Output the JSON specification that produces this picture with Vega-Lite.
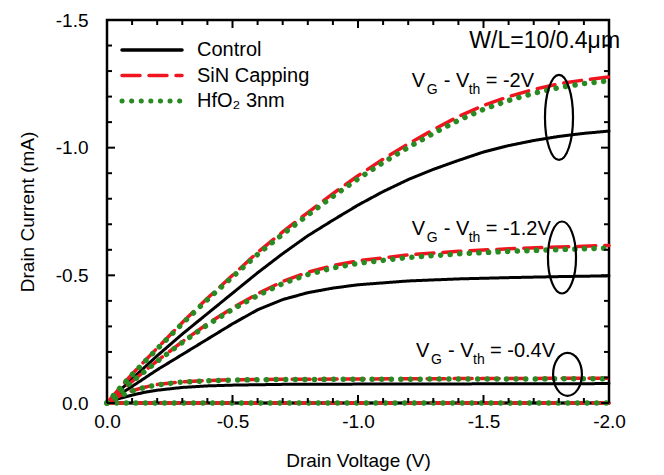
{
  "$schema": "https://vega.github.io/schema/vega-lite/v6.json",
  "autosize": "none",
  "width": 502,
  "height": 383,
  "padding": {"left": 107, "top": 20, "right": 55, "bottom": 72},
  "background": "white",
  "config": {
    "view": {"stroke": "black", "strokeWidth": 2.5},
    "font": "Liberation Sans",
    "axis": {"domain": false, "grid": false, "tickColor": "black", "tickWidth": 2, "labelColor": "black", "titleColor": "black", "labelFont": "Liberation Sans", "titleFont": "Liberation Sans", "labelFontSize": 19, "titleFontSize": 19, "titleFontWeight": "normal", "labelOverlap": false, "labelFlush": false}
  },
  "datasets": {
    "curves": [
      {"s": "Control", "g": "-2", "v": 0, "i": 0},
      {"s": "Control", "g": "-2", "v": -0.05, "i": -0.048},
      {"s": "Control", "g": "-2", "v": -0.1, "i": -0.095},
      {"s": "Control", "g": "-2", "v": -0.2, "i": -0.185},
      {"s": "Control", "g": "-2", "v": -0.3, "i": -0.27},
      {"s": "Control", "g": "-2", "v": -0.4, "i": -0.35},
      {"s": "Control", "g": "-2", "v": -0.5, "i": -0.43},
      {"s": "Control", "g": "-2", "v": -0.6, "i": -0.51},
      {"s": "Control", "g": "-2", "v": -0.7, "i": -0.585},
      {"s": "Control", "g": "-2", "v": -0.8, "i": -0.655},
      {"s": "Control", "g": "-2", "v": -0.9, "i": -0.716},
      {"s": "Control", "g": "-2", "v": -1.0, "i": -0.775},
      {"s": "Control", "g": "-2", "v": -1.1, "i": -0.828},
      {"s": "Control", "g": "-2", "v": -1.2, "i": -0.875},
      {"s": "Control", "g": "-2", "v": -1.3, "i": -0.915},
      {"s": "Control", "g": "-2", "v": -1.4, "i": -0.95},
      {"s": "Control", "g": "-2", "v": -1.5, "i": -0.983},
      {"s": "Control", "g": "-2", "v": -1.6, "i": -1.008},
      {"s": "Control", "g": "-2", "v": -1.7, "i": -1.028},
      {"s": "Control", "g": "-2", "v": -1.8, "i": -1.044},
      {"s": "Control", "g": "-2", "v": -1.9, "i": -1.056},
      {"s": "Control", "g": "-2", "v": -2.0, "i": -1.065},
      {"s": "Control", "g": "-1.2", "v": 0, "i": 0},
      {"s": "Control", "g": "-1.2", "v": -0.05, "i": -0.033},
      {"s": "Control", "g": "-1.2", "v": -0.1, "i": -0.065},
      {"s": "Control", "g": "-1.2", "v": -0.2, "i": -0.13},
      {"s": "Control", "g": "-1.2", "v": -0.3, "i": -0.19},
      {"s": "Control", "g": "-1.2", "v": -0.4, "i": -0.25},
      {"s": "Control", "g": "-1.2", "v": -0.5, "i": -0.31},
      {"s": "Control", "g": "-1.2", "v": -0.6, "i": -0.365},
      {"s": "Control", "g": "-1.2", "v": -0.7, "i": -0.405},
      {"s": "Control", "g": "-1.2", "v": -0.8, "i": -0.432},
      {"s": "Control", "g": "-1.2", "v": -0.9, "i": -0.45},
      {"s": "Control", "g": "-1.2", "v": -1.0, "i": -0.463},
      {"s": "Control", "g": "-1.2", "v": -1.2, "i": -0.478},
      {"s": "Control", "g": "-1.2", "v": -1.4, "i": -0.486},
      {"s": "Control", "g": "-1.2", "v": -1.6, "i": -0.491},
      {"s": "Control", "g": "-1.2", "v": -1.8, "i": -0.495},
      {"s": "Control", "g": "-1.2", "v": -2.0, "i": -0.498},
      {"s": "Control", "g": "-0.4", "v": 0, "i": 0},
      {"s": "Control", "g": "-0.4", "v": -0.025, "i": -0.01},
      {"s": "Control", "g": "-0.4", "v": -0.05, "i": -0.018},
      {"s": "Control", "g": "-0.4", "v": -0.1, "i": -0.031},
      {"s": "Control", "g": "-0.4", "v": -0.15, "i": -0.042},
      {"s": "Control", "g": "-0.4", "v": -0.2, "i": -0.05},
      {"s": "Control", "g": "-0.4", "v": -0.3, "i": -0.061},
      {"s": "Control", "g": "-0.4", "v": -0.4, "i": -0.067},
      {"s": "Control", "g": "-0.4", "v": -0.5, "i": -0.07},
      {"s": "Control", "g": "-0.4", "v": -0.7, "i": -0.073},
      {"s": "Control", "g": "-0.4", "v": -1.0, "i": -0.074},
      {"s": "Control", "g": "-0.4", "v": -1.5, "i": -0.075},
      {"s": "Control", "g": "-0.4", "v": -2.0, "i": -0.076},
      {"s": "Control", "g": "0", "v": 0, "i": 0},
      {"s": "Control", "g": "0", "v": -2.0, "i": 0},
      {"s": "SiN Capping", "g": "-2", "v": 0, "i": 0},
      {"s": "SiN Capping", "g": "-2", "v": -0.05, "i": -0.058},
      {"s": "SiN Capping", "g": "-2", "v": -0.1, "i": -0.113},
      {"s": "SiN Capping", "g": "-2", "v": -0.2, "i": -0.215},
      {"s": "SiN Capping", "g": "-2", "v": -0.3, "i": -0.315},
      {"s": "SiN Capping", "g": "-2", "v": -0.4, "i": -0.41},
      {"s": "SiN Capping", "g": "-2", "v": -0.5, "i": -0.5},
      {"s": "SiN Capping", "g": "-2", "v": -0.6, "i": -0.59},
      {"s": "SiN Capping", "g": "-2", "v": -0.7, "i": -0.67},
      {"s": "SiN Capping", "g": "-2", "v": -0.8, "i": -0.746},
      {"s": "SiN Capping", "g": "-2", "v": -0.9, "i": -0.82},
      {"s": "SiN Capping", "g": "-2", "v": -1.0, "i": -0.89},
      {"s": "SiN Capping", "g": "-2", "v": -1.1, "i": -0.955},
      {"s": "SiN Capping", "g": "-2", "v": -1.2, "i": -1.015},
      {"s": "SiN Capping", "g": "-2", "v": -1.3, "i": -1.07},
      {"s": "SiN Capping", "g": "-2", "v": -1.4, "i": -1.122},
      {"s": "SiN Capping", "g": "-2", "v": -1.5, "i": -1.165},
      {"s": "SiN Capping", "g": "-2", "v": -1.6, "i": -1.2},
      {"s": "SiN Capping", "g": "-2", "v": -1.7, "i": -1.228},
      {"s": "SiN Capping", "g": "-2", "v": -1.8, "i": -1.25},
      {"s": "SiN Capping", "g": "-2", "v": -1.9, "i": -1.265},
      {"s": "SiN Capping", "g": "-2", "v": -2.0, "i": -1.277},
      {"s": "SiN Capping", "g": "-1.2", "v": 0, "i": 0},
      {"s": "SiN Capping", "g": "-1.2", "v": -0.05, "i": -0.043},
      {"s": "SiN Capping", "g": "-1.2", "v": -0.1, "i": -0.085},
      {"s": "SiN Capping", "g": "-1.2", "v": -0.2, "i": -0.165},
      {"s": "SiN Capping", "g": "-1.2", "v": -0.3, "i": -0.24},
      {"s": "SiN Capping", "g": "-1.2", "v": -0.4, "i": -0.31},
      {"s": "SiN Capping", "g": "-1.2", "v": -0.5, "i": -0.372},
      {"s": "SiN Capping", "g": "-1.2", "v": -0.6, "i": -0.428},
      {"s": "SiN Capping", "g": "-1.2", "v": -0.7, "i": -0.476},
      {"s": "SiN Capping", "g": "-1.2", "v": -0.8, "i": -0.512},
      {"s": "SiN Capping", "g": "-1.2", "v": -0.9, "i": -0.538},
      {"s": "SiN Capping", "g": "-1.2", "v": -1.0, "i": -0.557},
      {"s": "SiN Capping", "g": "-1.2", "v": -1.2, "i": -0.58},
      {"s": "SiN Capping", "g": "-1.2", "v": -1.4, "i": -0.594},
      {"s": "SiN Capping", "g": "-1.2", "v": -1.6, "i": -0.604},
      {"s": "SiN Capping", "g": "-1.2", "v": -1.8, "i": -0.611},
      {"s": "SiN Capping", "g": "-1.2", "v": -2.0, "i": -0.617},
      {"s": "SiN Capping", "g": "-0.4", "v": 0, "i": 0},
      {"s": "SiN Capping", "g": "-0.4", "v": -0.025, "i": -0.015},
      {"s": "SiN Capping", "g": "-0.4", "v": -0.05, "i": -0.028},
      {"s": "SiN Capping", "g": "-0.4", "v": -0.1, "i": -0.048},
      {"s": "SiN Capping", "g": "-0.4", "v": -0.15, "i": -0.062},
      {"s": "SiN Capping", "g": "-0.4", "v": -0.2, "i": -0.072},
      {"s": "SiN Capping", "g": "-0.4", "v": -0.3, "i": -0.083},
      {"s": "SiN Capping", "g": "-0.4", "v": -0.4, "i": -0.088},
      {"s": "SiN Capping", "g": "-0.4", "v": -0.5, "i": -0.091},
      {"s": "SiN Capping", "g": "-0.4", "v": -0.7, "i": -0.093},
      {"s": "SiN Capping", "g": "-0.4", "v": -1.0, "i": -0.094},
      {"s": "SiN Capping", "g": "-0.4", "v": -1.5, "i": -0.096},
      {"s": "SiN Capping", "g": "-0.4", "v": -2.0, "i": -0.097},
      {"s": "SiN Capping", "g": "0", "v": 0, "i": 0},
      {"s": "SiN Capping", "g": "0", "v": -2.0, "i": 0},
      {"s": "HfO₂ 3nm", "g": "-2", "v": 0, "i": 0},
      {"s": "HfO₂ 3nm", "g": "-2", "v": -0.05, "i": -0.057},
      {"s": "HfO₂ 3nm", "g": "-2", "v": -0.1, "i": -0.111},
      {"s": "HfO₂ 3nm", "g": "-2", "v": -0.2, "i": -0.212},
      {"s": "HfO₂ 3nm", "g": "-2", "v": -0.3, "i": -0.311},
      {"s": "HfO₂ 3nm", "g": "-2", "v": -0.4, "i": -0.405},
      {"s": "HfO₂ 3nm", "g": "-2", "v": -0.5, "i": -0.494},
      {"s": "HfO₂ 3nm", "g": "-2", "v": -0.6, "i": -0.582},
      {"s": "HfO₂ 3nm", "g": "-2", "v": -0.7, "i": -0.661},
      {"s": "HfO₂ 3nm", "g": "-2", "v": -0.8, "i": -0.736},
      {"s": "HfO₂ 3nm", "g": "-2", "v": -0.9, "i": -0.809},
      {"s": "HfO₂ 3nm", "g": "-2", "v": -1.0, "i": -0.878},
      {"s": "HfO₂ 3nm", "g": "-2", "v": -1.1, "i": -0.942},
      {"s": "HfO₂ 3nm", "g": "-2", "v": -1.2, "i": -1.001},
      {"s": "HfO₂ 3nm", "g": "-2", "v": -1.3, "i": -1.056},
      {"s": "HfO₂ 3nm", "g": "-2", "v": -1.4, "i": -1.107},
      {"s": "HfO₂ 3nm", "g": "-2", "v": -1.5, "i": -1.15},
      {"s": "HfO₂ 3nm", "g": "-2", "v": -1.6, "i": -1.185},
      {"s": "HfO₂ 3nm", "g": "-2", "v": -1.7, "i": -1.213},
      {"s": "HfO₂ 3nm", "g": "-2", "v": -1.8, "i": -1.235},
      {"s": "HfO₂ 3nm", "g": "-2", "v": -1.9, "i": -1.251},
      {"s": "HfO₂ 3nm", "g": "-2", "v": -2.0, "i": -1.262},
      {"s": "HfO₂ 3nm", "g": "-1.2", "v": 0, "i": 0},
      {"s": "HfO₂ 3nm", "g": "-1.2", "v": -0.05, "i": -0.042},
      {"s": "HfO₂ 3nm", "g": "-1.2", "v": -0.1, "i": -0.084},
      {"s": "HfO₂ 3nm", "g": "-1.2", "v": -0.2, "i": -0.163},
      {"s": "HfO₂ 3nm", "g": "-1.2", "v": -0.3, "i": -0.237},
      {"s": "HfO₂ 3nm", "g": "-1.2", "v": -0.4, "i": -0.306},
      {"s": "HfO₂ 3nm", "g": "-1.2", "v": -0.5, "i": -0.367},
      {"s": "HfO₂ 3nm", "g": "-1.2", "v": -0.6, "i": -0.421},
      {"s": "HfO₂ 3nm", "g": "-1.2", "v": -0.7, "i": -0.468},
      {"s": "HfO₂ 3nm", "g": "-1.2", "v": -0.8, "i": -0.503},
      {"s": "HfO₂ 3nm", "g": "-1.2", "v": -0.9, "i": -0.529},
      {"s": "HfO₂ 3nm", "g": "-1.2", "v": -1.0, "i": -0.547},
      {"s": "HfO₂ 3nm", "g": "-1.2", "v": -1.2, "i": -0.57},
      {"s": "HfO₂ 3nm", "g": "-1.2", "v": -1.4, "i": -0.584},
      {"s": "HfO₂ 3nm", "g": "-1.2", "v": -1.6, "i": -0.594},
      {"s": "HfO₂ 3nm", "g": "-1.2", "v": -1.8, "i": -0.601},
      {"s": "HfO₂ 3nm", "g": "-1.2", "v": -2.0, "i": -0.607},
      {"s": "HfO₂ 3nm", "g": "-0.4", "v": 0, "i": 0},
      {"s": "HfO₂ 3nm", "g": "-0.4", "v": -0.025, "i": -0.015},
      {"s": "HfO₂ 3nm", "g": "-0.4", "v": -0.05, "i": -0.027},
      {"s": "HfO₂ 3nm", "g": "-0.4", "v": -0.1, "i": -0.047},
      {"s": "HfO₂ 3nm", "g": "-0.4", "v": -0.15, "i": -0.061},
      {"s": "HfO₂ 3nm", "g": "-0.4", "v": -0.2, "i": -0.071},
      {"s": "HfO₂ 3nm", "g": "-0.4", "v": -0.3, "i": -0.082},
      {"s": "HfO₂ 3nm", "g": "-0.4", "v": -0.4, "i": -0.087},
      {"s": "HfO₂ 3nm", "g": "-0.4", "v": -0.5, "i": -0.09},
      {"s": "HfO₂ 3nm", "g": "-0.4", "v": -0.7, "i": -0.092},
      {"s": "HfO₂ 3nm", "g": "-0.4", "v": -1.0, "i": -0.093},
      {"s": "HfO₂ 3nm", "g": "-0.4", "v": -1.5, "i": -0.094},
      {"s": "HfO₂ 3nm", "g": "-0.4", "v": -2.0, "i": -0.095},
      {"s": "HfO₂ 3nm", "g": "0", "v": 0, "i": 0},
      {"s": "HfO₂ 3nm", "g": "0", "v": -2.0, "i": 0}
    ],
    "notes": [
      {"t": "V", "x": -1.2139, "y": -1.2389, "k": "main"},
      {"t": "G", "x": -1.2737, "y": -1.2103, "k": "sub"},
      {"t": "- V", "x": -1.3414, "y": -1.2389, "k": "main"},
      {"t": "th", "x": -1.441, "y": -1.2103, "k": "sub"},
      {"t": "= -2V", "x": -1.5088, "y": -1.2389, "k": "main"},
      {"t": "V", "x": -1.2139, "y": -0.658, "k": "main"},
      {"t": "G", "x": -1.2737, "y": -0.6306, "k": "sub"},
      {"t": "- V", "x": -1.3414, "y": -0.658, "k": "main"},
      {"t": "th", "x": -1.441, "y": -0.6306, "k": "sub"},
      {"t": "= -1.2V", "x": -1.5088, "y": -0.658, "k": "main"},
      {"t": "V", "x": -1.2311, "y": -0.1814, "k": "main"},
      {"t": "G", "x": -1.2908, "y": -0.1528, "k": "sub"},
      {"t": "- V", "x": -1.3586, "y": -0.1814, "k": "main"},
      {"t": "th", "x": -1.4582, "y": -0.1528, "k": "sub"},
      {"t": "= -0.4V", "x": -1.5259, "y": -0.1814, "k": "main"}
    ],
    "title": [
      {"t": "W/L=10/0.4μm", "x": -2.044, "y": -1.3905}
    ],
    "ellipses": [
      {"e": "a", "x": -1.8008, "y": -1.1183},
      {"e": "b", "x": -1.8127, "y": -0.5699},
      {"e": "c", "x": -1.8347, "y": -0.1124}
    ],
    "xticks": [
      {"v": 0, "k": "major"}, {"v": -0.1, "k": "minor"}, {"v": -0.2, "k": "minor"}, {"v": -0.3, "k": "minor"}, {"v": -0.4, "k": "minor"},
      {"v": -0.5, "k": "major"}, {"v": -0.6, "k": "minor"}, {"v": -0.7, "k": "minor"}, {"v": -0.8, "k": "minor"}, {"v": -0.9, "k": "minor"},
      {"v": -1.0, "k": "major"}, {"v": -1.1, "k": "minor"}, {"v": -1.2, "k": "minor"}, {"v": -1.3, "k": "minor"}, {"v": -1.4, "k": "minor"},
      {"v": -1.5, "k": "major"}, {"v": -1.6, "k": "minor"}, {"v": -1.7, "k": "minor"}, {"v": -1.8, "k": "minor"}, {"v": -1.9, "k": "minor"},
      {"v": -2.0, "k": "major"}
    ],
    "yticks": [
      {"v": 0, "k": "major"}, {"v": -0.1, "k": "minor"}, {"v": -0.2, "k": "minor"}, {"v": -0.3, "k": "minor"}, {"v": -0.4, "k": "minor"},
      {"v": -0.5, "k": "major"}, {"v": -0.6, "k": "minor"}, {"v": -0.7, "k": "minor"}, {"v": -0.8, "k": "minor"}, {"v": -0.9, "k": "minor"},
      {"v": -1.0, "k": "major"}, {"v": -1.1, "k": "minor"}, {"v": -1.2, "k": "minor"}, {"v": -1.3, "k": "minor"}, {"v": -1.4, "k": "minor"},
      {"v": -1.5, "k": "major"}
    ]
  },
  "resolve": {"axis": {"x": "independent", "y": "independent"}},
  "layer": [
    {
      "data": {"name": "curves"},
      "transform": [{"filter": "datum.s === 'Control'"}],
      "mark": {"type": "line", "strokeCap": "round", "clip": false, "strokeWidth": 3},
      "encoding": {
        "x": {
          "field": "v", "type": "quantitative",
          "scale": {"domain": [0, -2], "nice": false, "zero": false},
          "axis": {
            "orient": "bottom",
            "values": [0, -0.5, -1, -1.5, -2],
            "format": ".1f",
            "labelExpr": "replace(datum.label, '−', '-')",
            "ticks": false,
            "labelPadding": 9,
            "title": "Drain Voltage (V)",
            "titlePadding": 20
          }
        },
        "y": {
          "field": "i", "type": "quantitative",
          "scale": {"domain": [0, -1.5], "nice": false, "zero": false},
          "axis": {
            "orient": "left",
            "values": [0, -0.5, -1, -1.5],
            "format": ".1f",
            "labelExpr": "replace(datum.label, '−', '-')",
            "ticks": false,
            "labelPadding": 19,
            "title": "Drain Current (mA)",
            "titlePadding": 18
          }
        },
        "color": {
          "field": "s", "type": "nominal",
          "scale": {"domain": ["Control", "SiN Capping", "HfO₂ 3nm"], "range": ["black", "#f0141e", "#2a8a22"]},
          "legend": {
            "orient": "none", "legendX": 35, "legendY": 20, "title": null,
            "symbolType": "M-3,0H3", "symbolSize": 400, "symbolStrokeWidth": 3.5,
            "labelFontSize": 20, "labelFont": "Liberation Sans", "labelColor": "black",
            "labelOffset": 35, "rowPadding": 5.5, "padding": 0,
            "encode": {"symbols": {"update": {"strokeCap": {"value": "round"}, "strokeWidth": {"signal": "datum.value === 'HfO₂ 3nm' ? 5 : 3.5"}}}}
          }
        },
        "strokeDash": {
          "field": "s", "type": "nominal",
          "scale": {"domain": ["Control", "SiN Capping", "HfO₂ 3nm"], "range": [[1, 0], [18, 9], [0.1, 9.5]]}
        },
        "detail": {"field": "g", "type": "nominal"},
        "order": {"field": "v", "type": "quantitative", "sort": "descending"}
      }
    },
    {
      "data": {"name": "curves"},
      "transform": [{"filter": "datum.s === 'SiN Capping'"}],
      "mark": {"type": "line", "strokeCap": "round", "clip": false, "strokeWidth": 3.5},
      "encoding": {
        "x": {"field": "v", "type": "quantitative", "axis": null},
        "y": {"field": "i", "type": "quantitative", "axis": null},
        "color": {"field": "s", "type": "nominal"},
        "strokeDash": {"field": "s", "type": "nominal"},
        "detail": {"field": "g", "type": "nominal"},
        "order": {"field": "v", "type": "quantitative", "sort": "descending"}
      }
    },
    {
      "data": {"name": "curves"},
      "transform": [{"filter": "datum.s === 'HfO₂ 3nm'"}],
      "mark": {"type": "line", "strokeCap": "round", "clip": false, "strokeWidth": 5.5},
      "encoding": {
        "x": {"field": "v", "type": "quantitative", "axis": null},
        "y": {"field": "i", "type": "quantitative", "axis": null},
        "color": {"field": "s", "type": "nominal"},
        "strokeDash": {"field": "s", "type": "nominal"},
        "detail": {"field": "g", "type": "nominal"},
        "order": {"field": "v", "type": "quantitative", "sort": "descending"}
      }
    },
    {
      "data": {"name": "notes"},
      "transform": [{"filter": "datum.k === 'main'"}],
      "mark": {"type": "text", "align": "left", "baseline": "alphabetic", "fontSize": 20, "font": "Liberation Sans", "color": "black"},
      "encoding": {
        "x": {"field": "x", "type": "quantitative", "axis": null},
        "y": {"field": "y", "type": "quantitative", "axis": null},
        "text": {"field": "t"}
      }
    },
    {
      "data": {"name": "notes"},
      "transform": [{"filter": "datum.k === 'sub'"}],
      "mark": {"type": "text", "align": "left", "baseline": "alphabetic", "fontSize": 14, "font": "Liberation Sans", "color": "black"},
      "encoding": {
        "x": {"field": "x", "type": "quantitative", "axis": null},
        "y": {"field": "y", "type": "quantitative", "axis": null},
        "text": {"field": "t"}
      }
    },
    {
      "data": {"name": "title"},
      "mark": {"type": "text", "align": "right", "baseline": "alphabetic", "fontSize": 23, "font": "Liberation Sans", "color": "black"},
      "encoding": {
        "x": {"field": "x", "type": "quantitative", "axis": null},
        "y": {"field": "y", "type": "quantitative", "axis": null},
        "text": {"field": "t"}
      }
    },
    {
      "data": {"name": "ellipses"},
      "transform": [{"filter": "datum.e === 'a'"}],
      "mark": {"type": "point", "filled": false, "stroke": "black", "strokeWidth": 2.2, "opacity": 1, "shape": "M0,-1A0.33,1,0,1,1,0,1A0.33,1,0,1,1,0,-1Z", "size": 7225},
      "encoding": {
        "x": {"field": "x", "type": "quantitative", "axis": null},
        "y": {"field": "y", "type": "quantitative", "axis": null}
      }
    },
    {
      "data": {"name": "ellipses"},
      "transform": [{"filter": "datum.e === 'b'"}],
      "mark": {"type": "point", "filled": false, "stroke": "black", "strokeWidth": 2.2, "opacity": 1, "shape": "M0,-1A0.39,1,0,1,1,0,1A0.39,1,0,1,1,0,-1Z", "size": 5184},
      "encoding": {
        "x": {"field": "x", "type": "quantitative", "axis": null},
        "y": {"field": "y", "type": "quantitative", "axis": null}
      }
    },
    {
      "data": {"name": "ellipses"},
      "transform": [{"filter": "datum.e === 'c'"}],
      "mark": {"type": "point", "filled": false, "stroke": "black", "strokeWidth": 2.2, "opacity": 1, "shape": "M0,-1A0.67,1,0,1,1,0,1A0.67,1,0,1,1,0,-1Z", "size": 1849},
      "encoding": {
        "x": {"field": "x", "type": "quantitative", "axis": null},
        "y": {"field": "y", "type": "quantitative", "axis": null}
      }
    },
    {
      "data": {"name": "xticks"},
      "transform": [{"filter": "datum.k === 'major'"}],
      "mark": {"type": "tick", "orient": "vertical", "size": 8, "thickness": 2, "color": "black", "opacity": 1, "yOffset": -4, "clip": false},
      "encoding": {
        "x": {"field": "v", "type": "quantitative", "axis": null},
        "y": {"datum": 0, "type": "quantitative", "axis": null}
      }
    },
    {
      "data": {"name": "xticks"},
      "transform": [{"filter": "datum.k === 'minor'"}],
      "mark": {"type": "tick", "orient": "vertical", "size": 5, "thickness": 2, "color": "black", "opacity": 1, "yOffset": -2.5, "clip": false},
      "encoding": {
        "x": {"field": "v", "type": "quantitative", "axis": null},
        "y": {"datum": 0, "type": "quantitative", "axis": null}
      }
    },
    {
      "data": {"name": "xticks"},
      "transform": [{"filter": "datum.k === 'major'"}],
      "mark": {"type": "tick", "orient": "vertical", "size": 8, "thickness": 2, "color": "black", "opacity": 1, "yOffset": 4, "clip": false},
      "encoding": {
        "x": {"field": "v", "type": "quantitative", "axis": null},
        "y": {"datum": -1.5, "type": "quantitative", "axis": null}
      }
    },
    {
      "data": {"name": "xticks"},
      "transform": [{"filter": "datum.k === 'minor'"}],
      "mark": {"type": "tick", "orient": "vertical", "size": 5, "thickness": 2, "color": "black", "opacity": 1, "yOffset": 2.5, "clip": false},
      "encoding": {
        "x": {"field": "v", "type": "quantitative", "axis": null},
        "y": {"datum": -1.5, "type": "quantitative", "axis": null}
      }
    },
    {
      "data": {"name": "yticks"},
      "transform": [{"filter": "datum.k === 'major'"}],
      "mark": {"type": "tick", "orient": "horizontal", "size": 8, "thickness": 2, "color": "black", "opacity": 1, "xOffset": 4, "clip": false},
      "encoding": {
        "y": {"field": "v", "type": "quantitative", "axis": null},
        "x": {"datum": 0, "type": "quantitative", "axis": null}
      }
    },
    {
      "data": {"name": "yticks"},
      "transform": [{"filter": "datum.k === 'minor'"}],
      "mark": {"type": "tick", "orient": "horizontal", "size": 5, "thickness": 2, "color": "black", "opacity": 1, "xOffset": 2.5, "clip": false},
      "encoding": {
        "y": {"field": "v", "type": "quantitative", "axis": null},
        "x": {"datum": 0, "type": "quantitative", "axis": null}
      }
    },
    {
      "data": {"name": "yticks"},
      "transform": [{"filter": "datum.k === 'major'"}],
      "mark": {"type": "tick", "orient": "horizontal", "size": 8, "thickness": 2, "color": "black", "opacity": 1, "xOffset": -4, "clip": false},
      "encoding": {
        "y": {"field": "v", "type": "quantitative", "axis": null},
        "x": {"datum": -2, "type": "quantitative", "axis": null}
      }
    },
    {
      "data": {"name": "yticks"},
      "transform": [{"filter": "datum.k === 'minor'"}],
      "mark": {"type": "tick", "orient": "horizontal", "size": 5, "thickness": 2, "color": "black", "opacity": 1, "xOffset": -2.5, "clip": false},
      "encoding": {
        "y": {"field": "v", "type": "quantitative", "axis": null},
        "x": {"datum": -2, "type": "quantitative", "axis": null}
      }
    }
  ]
}
